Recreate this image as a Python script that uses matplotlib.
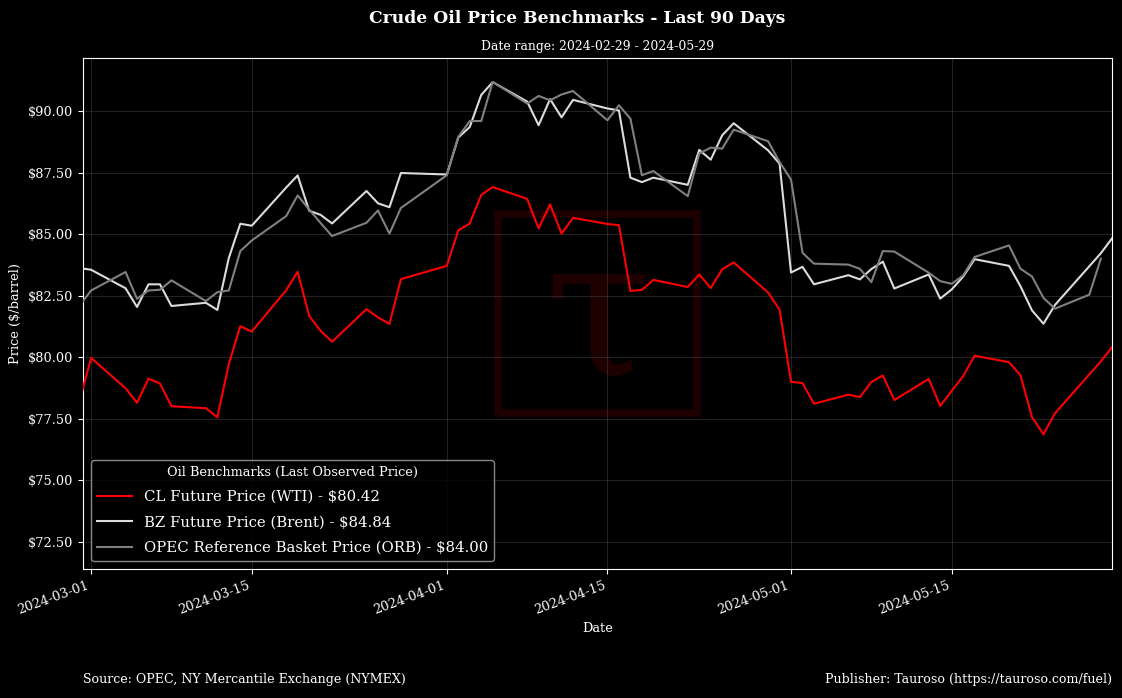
import matplotlib
matplotlib.use("Agg")
import matplotlib.pyplot as plt
import matplotlib.dates as mdates
from matplotlib.patches import Rectangle
import pandas as pd

plt.rcParams['font.family'] = ['DejaVu Serif']

# futures trading days (NYMEX)
futures_dates = [
    "2024-02-29", "2024-03-01", "2024-03-04", "2024-03-05", "2024-03-06", "2024-03-07", "2024-03-08",
    "2024-03-11", "2024-03-12", "2024-03-13", "2024-03-14", "2024-03-15", "2024-03-18", "2024-03-19",
    "2024-03-20", "2024-03-21", "2024-03-22", "2024-03-25", "2024-03-26", "2024-03-27", "2024-03-28",
    "2024-04-01", "2024-04-02", "2024-04-03", "2024-04-04", "2024-04-05", "2024-04-08", "2024-04-09",
    "2024-04-10", "2024-04-11", "2024-04-12", "2024-04-15", "2024-04-16", "2024-04-17", "2024-04-18",
    "2024-04-19", "2024-04-22", "2024-04-23", "2024-04-24", "2024-04-25", "2024-04-26", "2024-04-29",
    "2024-04-30", "2024-05-01", "2024-05-02", "2024-05-03", "2024-05-06", "2024-05-07", "2024-05-08",
    "2024-05-09", "2024-05-10", "2024-05-13", "2024-05-14", "2024-05-15", "2024-05-16", "2024-05-17",
    "2024-05-20", "2024-05-21", "2024-05-22", "2024-05-23", "2024-05-24", "2024-05-28", "2024-05-29",
]

wti_prices = [
    78.26, 79.97, 78.74, 78.15, 79.13, 78.93, 78.01,
    77.93, 77.56, 79.72, 81.26, 81.04, 82.72, 83.47,
    81.68, 81.07, 80.63, 81.95, 81.62, 81.35, 83.17,
    83.71, 85.15, 85.43, 86.59, 86.91, 86.43, 85.23,
    86.21, 85.02, 85.66, 85.41, 85.36, 82.69, 82.73,
    83.14, 82.85, 83.36, 82.81, 83.57, 83.85, 82.63,
    81.93, 79.00, 78.95, 78.11, 78.48, 78.38, 78.99,
    79.26, 78.26, 79.12, 78.02, 78.63, 79.23, 80.06,
    79.80, 79.26, 77.57, 76.87, 77.72, 79.83, 80.42,
]

brent_prices = [
    83.62, 83.55, 82.80, 82.04, 82.96, 82.96, 82.08,
    82.21, 81.92, 84.03, 85.42, 85.34, 86.89, 87.38,
    85.95, 85.78, 85.43, 86.75, 86.25, 86.09, 87.48,
    87.42, 88.92, 89.35, 90.65, 91.17, 90.38, 89.42,
    90.48, 89.74, 90.45, 90.10, 90.02, 87.29, 87.11,
    87.29, 87.00, 88.42, 88.02, 89.01, 89.50, 88.40,
    87.86, 83.44, 83.67, 82.96, 83.33, 83.16, 83.58,
    83.88, 82.79, 83.36, 82.38, 82.75, 83.27, 83.98,
    83.71, 82.88, 81.90, 81.36, 82.12, 84.22, 84.84,
]

# OPEC basket publication days
orb_dates = [
    "2024-02-29", "2024-03-01", "2024-03-04", "2024-03-05", "2024-03-06", "2024-03-07", "2024-03-08",
    "2024-03-11", "2024-03-12", "2024-03-13", "2024-03-14", "2024-03-15", "2024-03-18", "2024-03-19",
    "2024-03-20", "2024-03-21", "2024-03-22", "2024-03-25", "2024-03-26", "2024-03-27", "2024-03-28",
    "2024-04-01", "2024-04-02", "2024-04-03", "2024-04-04", "2024-04-05", "2024-04-08", "2024-04-09",
    "2024-04-10", "2024-04-11", "2024-04-12", "2024-04-15", "2024-04-16", "2024-04-17", "2024-04-18",
    "2024-04-19", "2024-04-22", "2024-04-23", "2024-04-24", "2024-04-25", "2024-04-26", "2024-04-29",
    "2024-04-30", "2024-05-01", "2024-05-02", "2024-05-03", "2024-05-06", "2024-05-07", "2024-05-08",
    "2024-05-09", "2024-05-10", "2024-05-13", "2024-05-14", "2024-05-15", "2024-05-16", "2024-05-17",
    "2024-05-20", "2024-05-21", "2024-05-22", "2024-05-23", "2024-05-24", "2024-05-27", "2024-05-28",
]

orb_prices = [
    82.10, 82.71, 83.46, 82.37, 82.71, 82.74, 83.12,
    82.28, 82.64, 82.71, 84.31, 84.74, 85.73, 86.57,
    86.00, 85.45, 84.92, 85.46, 85.96, 85.02, 86.06,
    87.39, 88.95, 89.59, 89.59, 91.18, 90.30, 90.61,
    90.43, 90.67, 90.81, 89.62, 90.23, 89.69, 87.39,
    87.56, 86.54, 88.27, 88.51, 88.47, 89.24, 88.77,
    87.93, 87.21, 84.24, 83.80, 83.76, 83.59, 83.05,
    84.31, 84.29, 83.43, 83.09, 82.98, 83.32, 84.07,
    84.54, 83.59, 83.28, 82.41, 81.97, 82.54, 84.00,
]

series_labels = ["CL Future Price (WTI)", "BZ Future Price (Brent)", "OPEC Reference Basket Price (ORB)"]
series_colors = ["#ff0000", "#dcdcdc", "#808080"]

fut_x = pd.to_datetime(futures_dates)
orb_x = pd.to_datetime(orb_dates)

fig = plt.figure(figsize=(11.22, 6.98), dpi=100, facecolor="black")
ax = fig.add_axes([83 / 1122, 1 - 569 / 698, 1029.3 / 1122, 511 / 698])
ax.set_facecolor("black")

for x, y, lab, col in zip([fut_x, fut_x, orb_x], [wti_prices, brent_prices, orb_prices],
                          series_labels, series_colors):
    ax.plot(x, y, color=col, linewidth=1.5, label=f"{lab} - ${y[-1]:.2f}", zorder=3)

# watermark
ax.add_patch(Rectangle((0.403, 0.3055), 0.1934, 0.3896, transform=ax.transAxes,
                       fill=False, edgecolor="#1e0000", linewidth=5.5, zorder=1))
ax.text(0.5, 0.485, "τ", transform=ax.transAxes, fontsize=140, color="#1e0000",
        ha="center", va="center", zorder=1)

ax.set_xlim(pd.Timestamp("2024-02-29 07:00"), pd.Timestamp("2024-05-29"))
ax.set_ylim(71.4, 92.15)
ax.set_yticks([72.5, 75, 77.5, 80, 82.5, 85, 87.5, 90])
ax.yaxis.set_major_formatter(plt.FuncFormatter(lambda v, p: f"${v:.2f}"))
ax.xaxis.set_major_locator(mdates.DayLocator(bymonthday=[1, 15]))
ax.xaxis.set_major_formatter(mdates.DateFormatter("%Y-%m-%d"))
plt.setp(ax.get_xticklabels(), rotation=20, ha="right")

ax.grid(True, color="#444444", linewidth=0.6, alpha=0.6)
for s in ax.spines.values():
    s.set_color("white")
ax.tick_params(colors="white", labelsize=9.3)

ax.set_xlabel("Date", color="white", fontsize=9.3)
ax.set_ylabel("Price ($/barrel)", color="white", fontsize=9.3)
ax.set_title("Date range: 2024-02-29 - 2024-05-29", color="white", fontsize=8.9, pad=6)
fig.text(0.514, 0.973, "Crude Oil Price Benchmarks - Last 90 Days", color="white",
         fontsize=12.3, fontweight="bold", ha="center", va="center")

leg = ax.legend(loc="lower left", title="Oil Benchmarks (Last Observed Price)", fontsize=10.7,
                title_fontsize=9.3, facecolor="black", edgecolor="#aaaaaa", framealpha=0.8,
                labelcolor="white", labelspacing=0.77, handlelength=2.35, borderaxespad=0.55)
leg.get_title().set_color("white")

fig.text(83 / 1122, 1 - 679 / 698, "Source: OPEC, NY Mercantile Exchange (NYMEX)", color="white",
         fontsize=9.1, ha="left", va="center")
fig.text(1112 / 1122, 1 - 679 / 698, "Publisher: Tauroso (https://tauroso.com/fuel)", color="white",
         fontsize=9.1, ha="right", va="center")

fig.savefig("out.png", dpi=100, facecolor="black")
